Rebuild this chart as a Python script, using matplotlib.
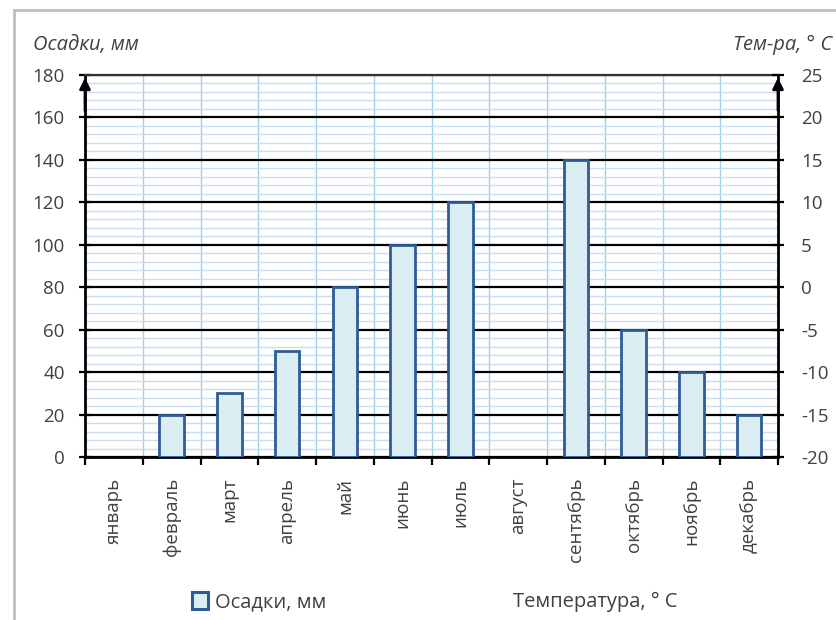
import numpy as np
import matplotlib
matplotlib.use('Agg')
import matplotlib.pyplot as plt
from matplotlib.patches import Patch, Rectangle
from matplotlib.lines import Line2D

plt.rcParams['font.family'] = ['Open Sans', 'DejaVu Sans']

# данные
months = ['январь', 'февраль', 'март', 'апрель', 'май', 'июнь',
          'июль', 'август', 'сентябрь', 'октябрь', 'ноябрь', 'декабрь']
precip = [0, 20, 30, 50, 80, 100, 120, 0, 140, 60, 40, 20]
precip_ticks = [0, 20, 40, 60, 80, 100, 120, 140, 160, 180]
temp_ticks = [-20, -15, -10, -5, 0, 5, 10, 15, 20, 25]

txt = '#404040'
fig = plt.figure(figsize=(8.36, 6.2), dpi=100)
ax = fig.add_axes([85/836, 1 - 457/620, (778-85)/836, (457-75)/620])

x = np.arange(len(months))
vals = np.array(precip, dtype=float)
# нулевые столбцы не рисуем (в Excel их не видно)
lws = [2 if v > 0 else 0 for v in vals]
ax.bar(x, vals, width=0.42, color='#DAEEF3', edgecolor='#2F5C96',
       linewidth=lws, zorder=3)

ax.set_xlim(-0.5, 11.5)
ax.set_ylim(0, 180)

# сетка
ax.set_yticks(precip_ticks)
ax.set_yticks(np.arange(0, 181, 4), minor=True)
ax.set_xticks(np.arange(-0.5, 12, 1))
ax.set_xticks(x, minor=True)
ax.set_xticklabels([])
ax.set_xticklabels(months, minor=True, rotation=90, va='top', ha='center',
                   fontsize=13.5, color=txt)
ax.set_yticklabels([str(v) for v in precip_ticks], fontsize=13.5, color=txt)

ax.grid(which='major', axis='y', color='black', lw=1.6, zorder=1)
ax.grid(which='minor', axis='y', color='#C9DCF2', lw=1, zorder=0)
ax.grid(which='major', axis='x', color='#9DD3E3', lw=1, zorder=1)

ax.tick_params(axis='y', which='major', direction='inout', length=9, width=1.6,
               pad=10)
ax.tick_params(axis='y', which='minor', length=0)
ax.tick_params(axis='x', which='major', direction='out', length=6, width=1.6)
ax.tick_params(axis='x', which='minor', length=0, pad=15)

for s in ['left', 'right', 'bottom']:
    ax.spines[s].set_linewidth(2)
    ax.spines[s].set_color('black')
ax.spines['top'].set_linewidth(1.6)
ax.spines['top'].set_color('#333333')

ax2 = ax.twinx()
ax2.set_ylim(-20, 25)
ax2.set_yticks(temp_ticks)
ax2.set_yticklabels([str(v) for v in temp_ticks], fontsize=13.5, color=txt)
ax2.tick_params(axis='y', direction='inout', length=9, width=1.6, pad=12)
for s in ax2.spines.values():
    s.set_visible(False)

# стрелки на осях
for xa in [0, 1]:
    ax.annotate('', xy=(xa, 1.0), xytext=(xa, 0.9), xycoords='axes fraction',
                arrowprops=dict(arrowstyle='-|>', color='black', lw=2,
                                mutation_scale=16), annotation_clip=False)

fig.text(33/836, 1 - 45/620, 'Осадки, мм', fontsize=14.5, style='italic',
         color=txt, va='center', ha='left')
fig.text(733/836, 1 - 45/620, 'Тем-ра, ° C', fontsize=14.5, style='italic',
         color=txt, va='center', ha='left')

handles = [Patch(facecolor='#DAEEF3', edgecolor='#2F5C96', lw=2.2),
           Line2D([], [], color='none')]
fig.legend(handles, ['Осадки, мм', 'Температура, ° C'], ncol=2,
           loc='center', bbox_to_anchor=(435/836, 1 - 602/620), frameon=False,
           fontsize=14.5, labelcolor=txt, handlelength=0.75, handleheight=0.9,
           handletextpad=0.35, columnspacing=8.2)

fig.add_artist(Rectangle((14/836, -0.1), 1.2, 1 - 10/620 + 0.1,
                         transform=fig.transFigure, fill=False,
                         edgecolor='#BFBFBF', lw=2))

fig.savefig('out.png', dpi=100)
